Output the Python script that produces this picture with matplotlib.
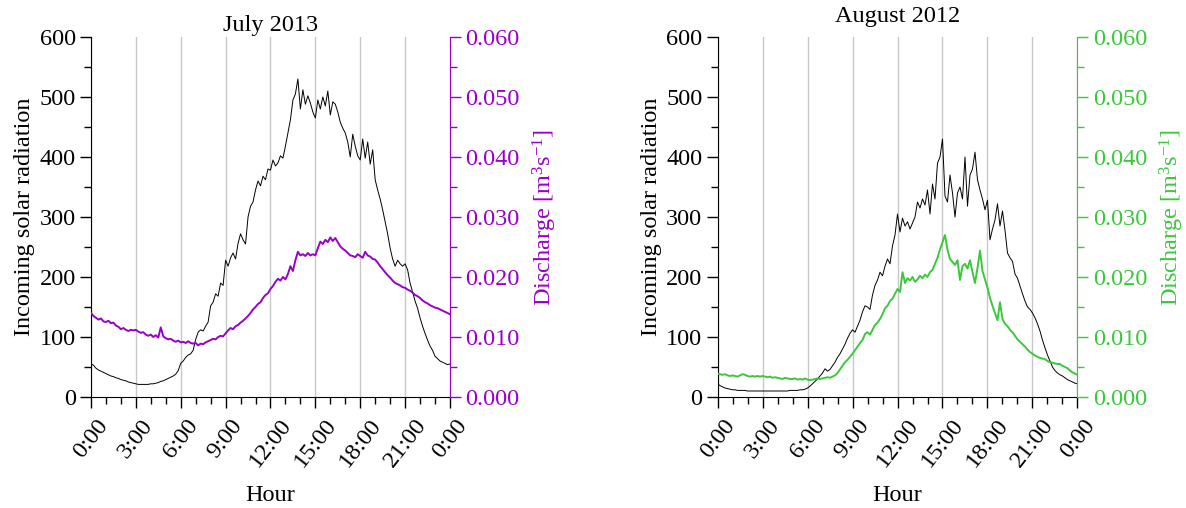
import numpy as np
import matplotlib
matplotlib.use("Agg")
import matplotlib.pyplot as plt
from matplotlib.ticker import MultipleLocator, FormatStrFormatter

plt.rcParams["font.family"] = ["Liberation Serif", "DejaVu Serif"]
plt.rcParams["mathtext.fontset"] = "custom"
plt.rcParams["mathtext.rm"] = "Liberation Serif"
plt.rcParams["mathtext.default"] = "regular"

FS = 17.5

# 10-minute records, 0:00 to 24:00
hours = np.arange(0, 24 * 60 + 1, 10) / 60.0

hour_ticks = [0, 3, 6, 9, 12, 15, 18, 21, 24]
hour_labels = ["0:00", "3:00", "6:00", "9:00", "12:00", "15:00", "18:00", "21:00", "0:00"]

# July 2013
radiation_jul = [
    55, 53, 48, 45, 43, 41,
    39, 37, 35, 34, 32, 31,
    29, 28, 27, 25, 24, 23,
    22, 21, 21, 21, 21, 21,
    22, 22, 23, 24, 26, 27,
    29, 31, 33, 35, 38, 44,
    56, 60, 66, 70, 72, 78,
    96, 108, 112, 110, 118, 125,
    152, 158, 172, 168, 190, 186,
    228, 218, 232, 240, 230, 256,
    272, 262, 255, 300, 318, 325,
    345, 360, 352, 368, 362, 380,
    378, 395, 385, 390, 402, 398,
    418, 440, 462, 495, 505, 530,
    480, 512, 488, 502, 490, 475,
    465, 495, 480, 500, 485, 510,
    470, 492, 488, 475, 458, 448,
    440, 425, 400, 438, 418, 402,
    395, 430, 398, 425, 388, 412,
    362, 345, 330, 312, 292, 272,
    248, 230, 218, 228, 222, 218,
    222, 212, 190, 175, 160, 148,
    132, 118, 106, 95, 85, 78,
    68, 64, 60, 58, 56, 54,
    55,
]
discharge_jul = [
    0.0140, 0.0135, 0.0132, 0.0129, 0.0131, 0.0126,
    0.0125, 0.0127, 0.0123, 0.0124, 0.0119, 0.0117,
    0.0113, 0.0115, 0.0112, 0.0110, 0.0112, 0.0111,
    0.0112, 0.0109, 0.0107, 0.0108, 0.0104, 0.0102,
    0.0104, 0.0100, 0.0103, 0.0099, 0.0116, 0.0101,
    0.0098, 0.0096, 0.0097, 0.0094, 0.0092, 0.0094,
    0.0091, 0.0092, 0.0090, 0.0093, 0.0090, 0.0089,
    0.0090, 0.0086, 0.0089, 0.0088, 0.0091, 0.0093,
    0.0095, 0.0097, 0.0096, 0.0100, 0.0102, 0.0101,
    0.0106, 0.0111, 0.0115, 0.0113, 0.0118, 0.0120,
    0.0124, 0.0127, 0.0131, 0.0135, 0.0140, 0.0146,
    0.0150, 0.0155, 0.0158, 0.0165, 0.0170, 0.0173,
    0.0180, 0.0185, 0.0192, 0.0197, 0.0194, 0.0200,
    0.0196, 0.0205, 0.0218, 0.0210, 0.0228, 0.0242,
    0.0236, 0.0238, 0.0235, 0.0240, 0.0236, 0.0238,
    0.0236, 0.0248, 0.0259, 0.0255, 0.0262, 0.0258,
    0.0266, 0.0260, 0.0265, 0.0258, 0.0251, 0.0247,
    0.0244, 0.0240, 0.0236, 0.0235, 0.0233, 0.0238,
    0.0235, 0.0232, 0.0242, 0.0236, 0.0234, 0.0230,
    0.0229, 0.0224, 0.0218, 0.0213, 0.0208, 0.0203,
    0.0199, 0.0194, 0.0190, 0.0188, 0.0186, 0.0183,
    0.0182, 0.0179, 0.0177, 0.0174, 0.0170, 0.0168,
    0.0165, 0.0161, 0.0158, 0.0156, 0.0153, 0.0151,
    0.0149, 0.0148, 0.0146, 0.0144, 0.0142, 0.0140,
    0.0138,
]

# August 2012
radiation_aug = [
    22, 19, 17, 15, 14, 13,
    12, 12, 11, 11, 11, 11,
    10, 10, 10, 10, 10, 10,
    10, 10, 10, 10, 10, 10,
    10, 10, 10, 10, 10, 11,
    11, 11, 11, 12, 12, 13,
    15, 18, 22, 26, 30, 35,
    40, 47, 43, 46, 52, 58,
    66, 72, 80, 88, 98, 106,
    112, 108, 118, 128, 142, 152,
    150, 146, 170, 186, 195, 208,
    202, 218, 230, 222, 252, 270,
    305, 275, 298, 285, 292, 280,
    290, 300, 325, 315, 330, 320,
    345, 305, 355, 330, 390, 400,
    430, 335, 325, 370, 340, 300,
    340, 350, 330, 400, 318, 370,
    380, 408, 362, 345, 330, 312,
    328, 262, 280, 295, 322, 285,
    310, 278, 240, 232, 226, 205,
    198, 185, 172, 160, 150, 146,
    140, 132, 122, 110, 95, 82,
    70, 60, 50, 44, 40, 37,
    35, 32, 29, 27, 25, 23,
    22,
]
discharge_aug = [
    0.0039, 0.0038, 0.0037, 0.0038, 0.0036, 0.0035,
    0.0036, 0.0035, 0.0034, 0.0036, 0.0038, 0.0037,
    0.0035, 0.0034, 0.0035, 0.0034, 0.0035, 0.0034,
    0.0035, 0.0034, 0.0033, 0.0034, 0.0032, 0.0033,
    0.0032, 0.0031, 0.0030, 0.0032, 0.0031, 0.0030,
    0.0030, 0.0031, 0.0029, 0.0030, 0.0029, 0.0031,
    0.0029, 0.0028, 0.0029, 0.0030, 0.0031, 0.0030,
    0.0031, 0.0032, 0.0033, 0.0032, 0.0034, 0.0036,
    0.0040, 0.0046, 0.0052, 0.0058, 0.0062, 0.0067,
    0.0072, 0.0078, 0.0084, 0.0090, 0.0095, 0.0105,
    0.0108, 0.0104, 0.0112, 0.0120, 0.0124, 0.0130,
    0.0138, 0.0148, 0.0152, 0.0160, 0.0164, 0.0172,
    0.0180, 0.0175, 0.0208, 0.0190, 0.0198, 0.0194,
    0.0200, 0.0192, 0.0196, 0.0202, 0.0198, 0.0204,
    0.0200, 0.0208, 0.0212, 0.0222, 0.0232, 0.0246,
    0.0258, 0.0270, 0.0245, 0.0230, 0.0225, 0.0220,
    0.0228, 0.0195, 0.0218, 0.0222, 0.0214, 0.0228,
    0.0208, 0.0190, 0.0215, 0.0244, 0.0210, 0.0196,
    0.0182, 0.0165, 0.0152, 0.0140, 0.0128, 0.0158,
    0.0130, 0.0122, 0.0118, 0.0112, 0.0108, 0.0102,
    0.0096, 0.0092, 0.0088, 0.0084, 0.0079, 0.0075,
    0.0072, 0.0069, 0.0067, 0.0065, 0.0064, 0.0063,
    0.0060, 0.0058, 0.0057, 0.0056, 0.0055, 0.0055,
    0.0052, 0.0050, 0.0048, 0.0044, 0.0041, 0.0039,
    0.0037,
]

panels = [
    ("July 2013", radiation_jul, discharge_jul, "#9900cc", [0.0767, 0.2185, 0.3027, 0.7087], 4),
    ("August 2012", radiation_aug, discharge_aug, "#3cc83c", [0.6050, 0.2185, 0.3035, 0.7087], 11),
]

fig = plt.figure(figsize=(11.86, 5.08), dpi=100)

for title, rad, q, qcolor, rect, tpad in panels:
    ax = fig.add_axes(rect)
    ax.plot(hours, rad, color="black", lw=0.7)
    ax.set_xlim(0, 24)
    ax.set_ylim(0, 600)
    ax.set_xticks(hour_ticks)
    ax.set_xticklabels(hour_labels, rotation=52)
    ax.xaxis.set_minor_locator(MultipleLocator(1))
    ax.yaxis.set_major_locator(MultipleLocator(100))
    ax.yaxis.set_minor_locator(MultipleLocator(50))
    ax.grid(axis="x", color="#c8c8c8", lw=1)
    ax.set_axisbelow(True)
    ax.spines["top"].set_visible(False)
    ax.spines["right"].set_visible(False)
    ax.tick_params(which="major", direction="out", length=8, width=1, labelsize=FS, pad=3)
    ax.tick_params(axis="x", which="major", pad=5)
    ax.tick_params(which="minor", direction="out", length=5, width=1)
    ax.set_xlabel("Hour", fontsize=FS, labelpad=10)
    ax.set_ylabel("Incoming solar radiation", fontsize=FS, labelpad=3)
    ax.set_title(title, fontsize=FS, pad=tpad)

    ax2 = ax.twinx()
    ax2.plot(hours, q, color=qcolor, lw=1.4)
    ax2.set_ylim(0, 0.06)
    ax2.yaxis.set_major_locator(MultipleLocator(0.01))
    ax2.yaxis.set_minor_locator(MultipleLocator(0.005))
    ax2.yaxis.set_major_formatter(FormatStrFormatter("%.3f"))
    for side in ["top", "left", "bottom"]:
        ax2.spines[side].set_visible(False)
    ax2.spines["right"].set_color(qcolor)
    ax2.tick_params(which="major", direction="out", length=8, width=1, colors=qcolor, labelsize=FS, pad=3)
    ax2.tick_params(which="minor", direction="out", length=5, width=1, colors=qcolor)
    ax2.set_ylabel("Discharge [m$^3$s$^{-1}$]", fontsize=FS, color=qcolor, labelpad=8)

fig.savefig("out.png", dpi=100)
